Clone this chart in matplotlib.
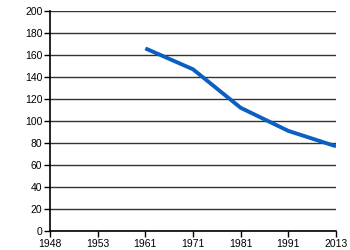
import matplotlib
matplotlib.use('Agg')
import matplotlib.pyplot as plt

plt.rcParams['font.family'] = ['Liberation Sans', 'DejaVu Sans']

years = ['1948', '1953', '1961', '1971', '1981', '1991', '2013']
# values only for the years that have data
data_years = ['1961', '1971', '1981', '1991', '2013']
values = [166, 147, 112, 91, 77]
y_ticks = [0, 20, 40, 60, 80, 100, 120, 140, 160, 180, 200]

fig = plt.figure(figsize=(3.5, 2.5), dpi=100)
ax = fig.add_axes([0.143, 0.076, 0.817, 0.88])

xpos = [years.index(y) for y in data_years]
ax.plot(xpos, values, color='#0a5fc0', linewidth=2.8, solid_capstyle='butt', zorder=3)

ax.set_xlim(0, len(years) - 1)
ax.set_ylim(0, 200)
ax.set_xticks(range(len(years)))
ax.set_xticklabels(years)
ax.set_yticks(y_ticks)
ax.yaxis.grid(True, color='#333333', linewidth=1.0)
ax.set_axisbelow(True)

for s in ['top', 'right']:
    ax.spines[s].set_visible(False)
ax.spines['left'].set_linewidth(1.2)
ax.spines['bottom'].set_linewidth(1.2)
ax.tick_params(axis='both', labelsize=7.5, length=4, width=1, direction='out', pad=1.5, colors='black')

fig.savefig('out.png', dpi=100)
